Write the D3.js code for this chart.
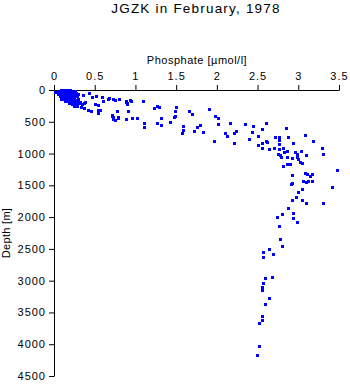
<!DOCTYPE html>
<html><head><meta charset="utf-8">
<script src="https://cdn.jsdelivr.net/npm/d3@7"></script>
<style>
body{margin:0;background:#fff}
svg{display:block}
text{font-family:"Liberation Sans",Arial,Helvetica,sans-serif;fill:#000}
</style>
</head><body>
<svg id="c" width="350" height="384"></svg>
<script>
const title = "JGZK in February, 1978";
const xLabel = "Phosphate [\u00b5mol/l]";
const yLabel = "Depth [m]";
const xTicks = [0, 0.5, 1, 1.5, 2, 2.5, 3, 3.5];
const xTickLabels = ["0", "0.5", "1", "1.5", "2", "2.5", "3", "3.5"];
const yTicks = [0, 500, 1000, 1500, 2000, 2500, 3000, 3500, 4000, 4500];
const yTickLabels = ["0", "500", "1000", "1500", "2000", "2500", "3000", "3500", "4000", "4500"];

// phosphate [umol/l] and matching depth [m]
const phosphate = [
  0.01,0.05,0.08,0.11,0.14,0.17,0.20,0.23,0.26,
  0.06,0.09,0.12,0.15,0.18,0.21,0.24,0.27,
  0.05,0.08,0.11,0.14,0.17,0.20,0.23,0.26,0.29,
  0.07,0.10,0.13,0.16,0.19,0.22,0.25,0.28,
  0.09,0.12,0.15,0.18,0.21,0.24,0.27,0.30,
  0.13,0.17,0.20,0.23,0.26,0.29,0.32,
  0.18,0.22,0.25,0.28,0.31,0.34,
  0.24,0.28,0.33,
  0.36,0.43,0.47,0.52,0.59,0.60,0.66,0.68,0.75,0.80,
  0.88,0.90,0.93,1.09,0.38,0.37,0.37,0.42,0.46,0.54,
  0.54,0.56,0.54,0.50,0.77,0.91,0.71,0.73,0.79,0.75,
  0.89,0.96,1.02,1.11,1.11,1.27,1.23,1.29,1.26,1.32,
  1.32,1.43,1.50,1.48,1.49,1.47,1.58,1.58,1.57,1.66,
  1.70,1.75,1.72,1.79,1.83,1.90,1.98,2.02,2.01,1.97,
  2.16,2.12,2.10,2.23,2.21,2.21,2.35,2.44,2.43,2.40,
  2.51,2.51,2.56,2.60,2.56,2.55,2.60,2.62,2.64,2.72,
  2.76,2.76,2.76,2.70,2.76,2.81,2.82,2.86,2.77,2.79,
  2.86,2.92,2.87,2.85,2.94,2.96,2.99,2.98,3.03,3.08,
  3.10,3.18,3.29,3.30,2.75,3.00,3.02,3.04,2.81,2.86,
  2.90,2.92,2.92,2.91,3.08,3.11,3.14,3.17,3.06,3.09,
  3.12,3.17,3.48,3.42,3.30,3.00,3.05,2.97,2.92,3.05,
  3.09,2.87,2.94,2.80,2.74,2.93,2.98,2.76,2.78,2.80,
  2.64,2.57,2.69,2.57,2.59,2.68,2.57,2.55,2.55,2.64,
  2.59,2.55,2.55,2.52,2.52,2.49,
  0.73,0.88,0.90,0.94,0.71,0.73,0.79
];
const depth = [
  30,10,5,5,5,5,5,10,10,
  40,35,30,40,35,30,40,40,
  70,75,65,70,75,70,65,75,70,
  100,105,100,110,100,105,110,100,
  140,135,145,140,150,140,150,145,
  175,180,170,185,175,180,185,
  210,215,205,220,210,215,
  250,245,260,
  80,52,105,90,105,168,142,121,157,147,
  173,210,157,173,184,200,279,315,331,315,
  367,315,236,225,331,331,405,457,436,472,
  457,446,446,525,587,247,289,273,525,446,
  551,499,262,331,409,430,567,630,682,331,
  378,578,646,556,661,304,409,436,540,803,
  525,724,672,640,682,840,540,562,656,777,
  724,866,619,515,830,918,798,819,934,745,
  735,787,855,918,934,908,971,960,1024,1050,
  1050,1076,735,604,840,971,1013,1060,955,709,
  1029,808,908,1013,1013,1087,1129,1145,1197,1170,
  1170,1339,1470,1485,1312,1328,1349,1328,1428,1444,
  1428,1433,1260,1523,1775,1611,1559,1690,1732,1732,
  1775,1853,1942,1958,1995,2021,2074,2142,2351,2452,
  2504,2546,2588,2635,2965,2950,3044,3097,3139,3280,
  3365,3559,3622,3659,4027,4162,
  146,184,220,168,394,420,430
];

const svg = d3.select("#c");
const x = d3.scaleLinear().domain([0, 3.5]).range([54, 339]);
const y = d3.scaleLinear().domain([0, 4500]).range([90, 376]);

svg.append("text").attr("x", 196).attr("y", 13).attr("text-anchor", "middle")
  .attr("font-size", 13.5).attr("letter-spacing", 1.2).text(title);

svg.append("text").attr("x", 197).attr("y", 64).attr("text-anchor", "middle")
  .attr("font-size", 11).attr("letter-spacing", 0.5).text(xLabel);

svg.append("text").attr("transform", "translate(10,233) rotate(-90)")
  .attr("text-anchor", "middle").attr("font-size", 11).attr("letter-spacing", 0.3).text(yLabel);

const gx = svg.append("g").attr("transform", "translate(0,90)")
  .call(d3.axisTop(x).tickValues(xTicks).tickFormat((d, i) => xTickLabels[i])
    .tickSize(5).tickSizeOuter(0).tickPadding(5));
const gy = svg.append("g").attr("transform", `translate(${x(0)},0)`)
  .call(d3.axisLeft(y).tickValues(yTicks).tickFormat((d, i) => yTickLabels[i])
    .tickSize(5).tickSizeOuter(0).tickPadding(3));
[gx, gy].forEach(g => {
  g.attr("font-family", null).attr("font-size", null);
  g.selectAll("text").attr("font-size", 11).attr("letter-spacing", 1);
  g.selectAll("path,line").attr("stroke", "#000");
});

const pts = phosphate.map((p, i) => ({p, d: depth[i]}));
svg.append("g").selectAll("rect").data(pts).join("rect")
  .attr("x", d => Math.round(x(d.p)) - 1)
  .attr("y", d => Math.round(y(d.d)) - 1)
  .attr("width", 3).attr("height", 3)
  .attr("fill", "#0000ff");
</script>
</body></html>
